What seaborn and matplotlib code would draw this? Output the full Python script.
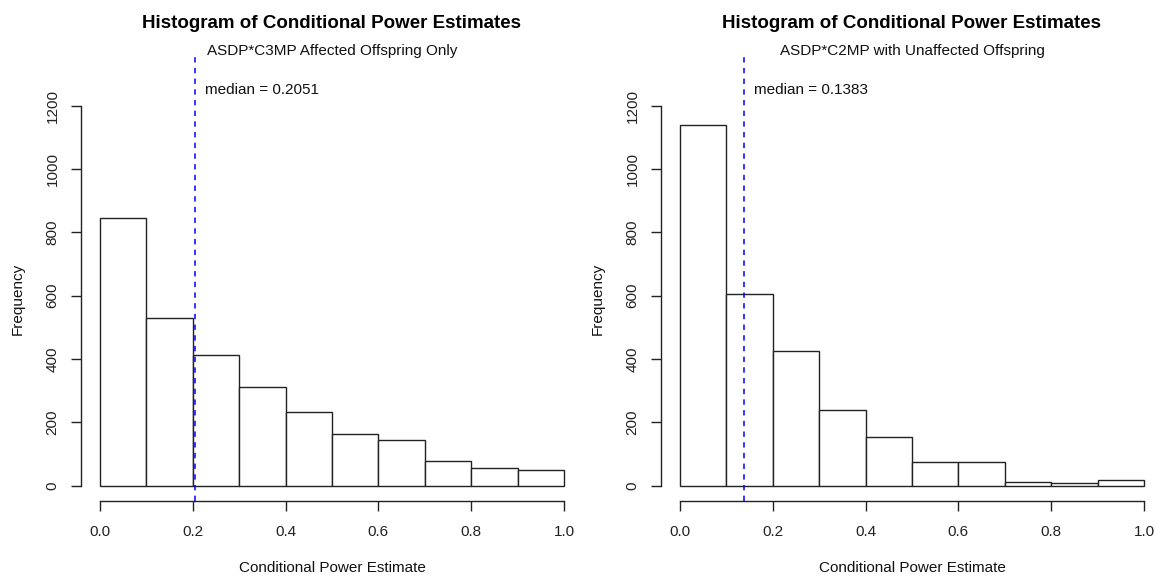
import numpy as np
import pandas as pd
import matplotlib
matplotlib.use("Agg")
import matplotlib.pyplot as plt
import seaborn as sns

# ---- data ----
bin_edges = [0.0, 0.1, 0.2, 0.3, 0.4, 0.5, 0.6, 0.7, 0.8, 0.9, 1.0]
counts_left = [846, 530, 413, 312, 232, 162, 145, 77, 56, 48]
counts_right = [1139, 604, 425, 239, 154, 73, 73, 12, 7, 17]
median_left = 0.2051
median_right = 0.1383
main_title = "Histogram of Conditional Power Estimates"
sub_left = "ASDP*C3MP Affected Offspring Only"
sub_right = "ASDP*C2MP with Unaffected Offspring"
x_label = "Conditional Power Estimate"
y_label = "Frequency"
x_ticks = [0.0, 0.2, 0.4, 0.6, 0.8, 1.0]
x_ticklabels = ["0.0", "0.2", "0.4", "0.6", "0.8", "1.0"]
y_ticks = [0, 200, 400, 600, 800, 1000, 1200]

sns.set_style("ticks")
plt.rcParams['font.family'] = ['Liberation Sans', 'DejaVu Sans']

W, H = 1155, 577
fig = plt.figure(figsize=(W / 100, H / 100), dpi=100)


def fx(px):
    return px / W


def fy(py):
    return 1 - py / H


def panel(left_px, counts, med, sub):
    top_px, bot_px = 90.8, 500.7
    width_px = 501.2
    ax = fig.add_axes([fx(left_px), fy(bot_px), width_px / W, (bot_px - top_px) / H])
    centers = [(a + b) / 2 for a, b in zip(bin_edges[:-1], bin_edges[1:])]
    df = pd.DataFrame({"x": centers, "w": counts})
    sns.histplot(data=df, x="x", weights="w", bins=list(bin_edges), ax=ax, stat="count",
                 color="white", edgecolor="#222222", linewidth=1.0, alpha=1.0)
    ax.set_xlim(-0.04, 1.04)
    ax.set_ylim(-48, 1248)
    for s in ["top", "right"]:
        ax.spines[s].set_visible(False)
    ax.spines["left"].set_bounds(0, 1200)
    ax.spines["bottom"].set_bounds(0, 1)
    for s in ["left", "bottom"]:
        ax.spines[s].set_color("#222222")
        ax.spines[s].set_linewidth(1.0)
    ax.set_xticks(x_ticks)
    ax.set_xticklabels(x_ticklabels)
    ax.set_yticks(y_ticks)
    ax.set_yticklabels([str(v) for v in y_ticks], rotation=90, va="center", ha="right")
    ax.tick_params(axis="both", direction="out", length=7.2, width=1.0,
                   color="#222222", labelsize=11, labelcolor="#222222")
    ax.tick_params(axis="x", pad=10.5)
    ax.tick_params(axis="y", pad=8.5)
    ax.set_xlabel("")
    ax.set_ylabel("")
    # median line (extends above plot region)
    ax.plot([med, med], [-48, 1355], color="blue", linestyle=(0, (3.5, 3.5)),
            linewidth=1.1, clip_on=False, zorder=5)
    ax.annotate(f"median = {med:.4f}", xy=(med, 1250), xytext=(7, 0),
                textcoords="offset points", ha="left", va="center",
                fontsize=11, color="#111111", annotation_clip=False)
    cx = fx(left_px + width_px / 2)
    fig.text(cx, fy(24), main_title, ha="center", va="center",
             fontsize=13.5, fontweight="bold", color="black")
    fig.text(cx, fy(51), sub, ha="center", va="center", fontsize=11, color="#111111")
    fig.text(cx, fy(568), x_label, ha="center", va="center", fontsize=11, color="#111111")
    fig.text(fx(left_px - 64), fy((top_px + bot_px) / 2 + 3), y_label, ha="center",
             va="center", rotation=90, fontsize=11, color="#111111")
    return ax


panel(81.4, counts_left, median_left, sub_left)
panel(661.4, counts_right, median_right, sub_right)

fig.savefig("out.png", dpi=100, facecolor="white")
